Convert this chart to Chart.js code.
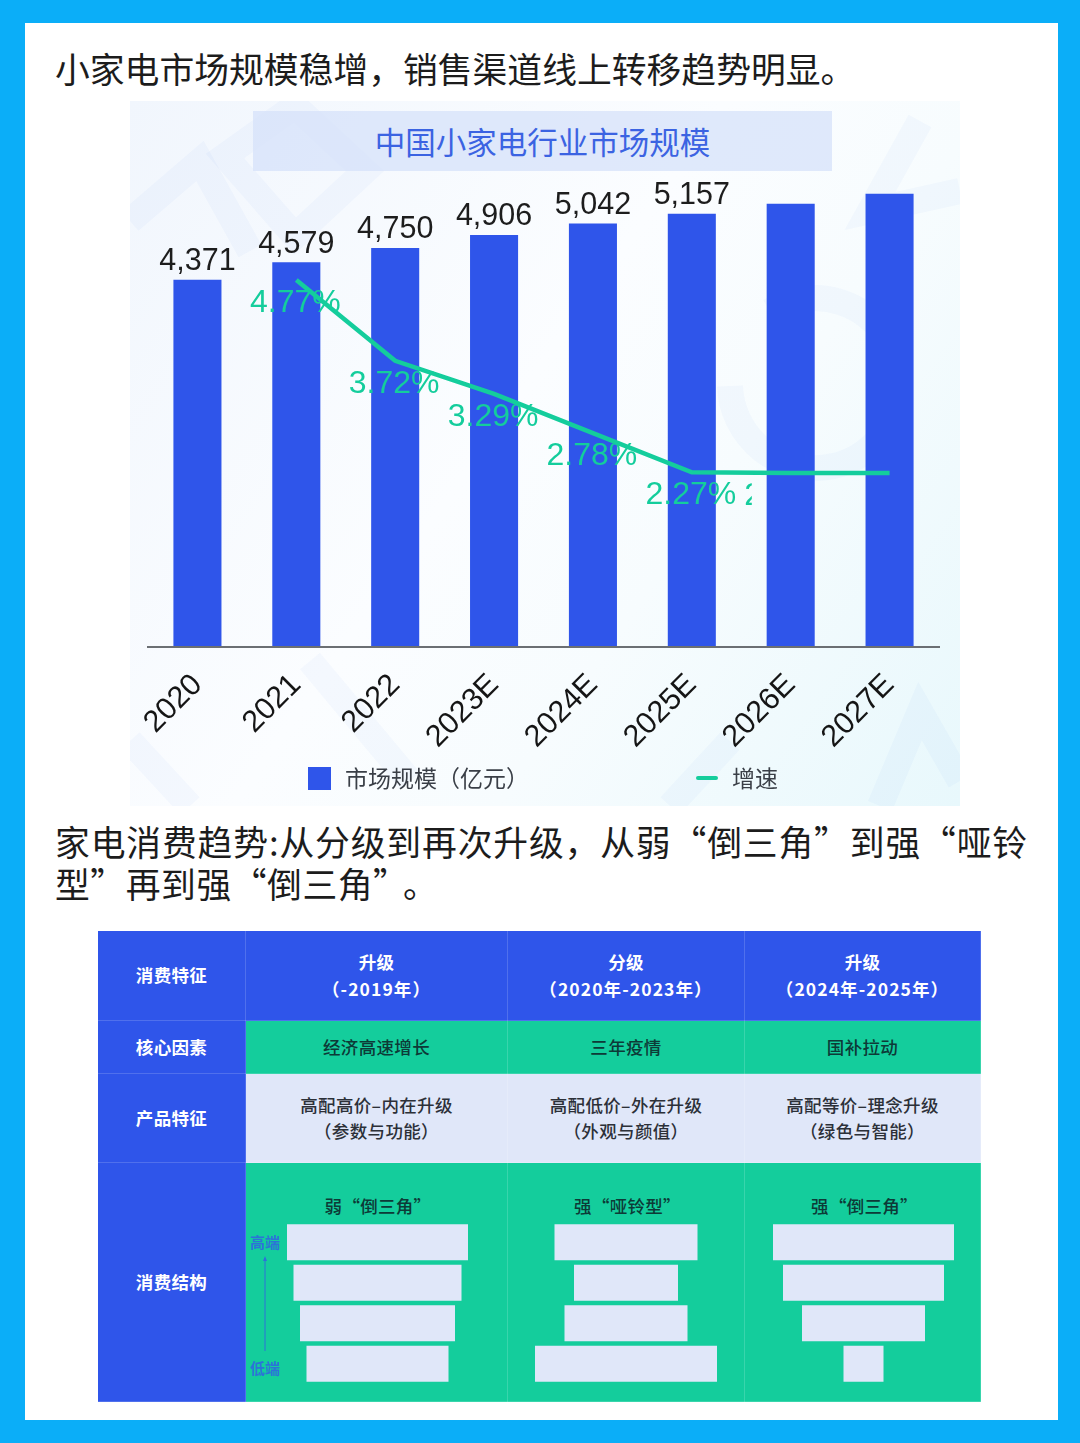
<!DOCTYPE html>
<html lang="zh-CN"><head><meta charset="utf-8">
<script src="https://cdn.jsdelivr.net/npm/chart.js@4"></script>
<style>
html,body{margin:0;padding:0;width:1080px;height:1443px;overflow:hidden;background:#0BAEF8;font-family:"Noto Sans CJK SC","Noto Sans",sans-serif}
#sheet{position:absolute;left:25px;top:23px;width:1033px;height:1397px;background:#fff}
.abs{position:absolute;white-space:nowrap}
.head{font-size:34.8px;line-height:42px;color:#1c1c1c;left:55px}
#panel{position:absolute;left:130px;top:101px;width:830px;height:705px;background:linear-gradient(125deg,#f1f6fd 0%,#fbfdff 45%,#f7fcfe 65%,#e8f8fc 100%)}
#panel svg{position:absolute;left:0;top:0}
#banner{position:absolute;left:253px;top:111px;width:579px;height:60px;background:rgba(214,226,249,.75);color:#3b63e2;font-size:30.5px;line-height:60px;text-align:center}
#c-main{position:absolute;left:130px;top:100px}
.leg{font-size:23px;line-height:30px;color:#3a3f47}
#tbl{position:absolute;left:97px;top:930px;width:883px;height:471px;border-collapse:collapse;table-layout:fixed}
#tbl td{padding:0;text-align:center;font-size:17.5px;font-weight:500;line-height:26.5px;letter-spacing:.35px;border:1px solid rgba(255,255,255,.16)}
#tbl td.h{background:#2F55EA;color:#fff;font-weight:700}
#tbl td.g{background:#14CD9C;color:#0d3a37}
#tbl td.l{background:#E0E7F9;color:#2c3038}
#tbl td.s{background:#14CD9C}
#tbl td span{letter-spacing:1.1px}
.ftitle{font-size:17.5px;font-weight:500;letter-spacing:.3px;color:#0d3a37;line-height:26px;text-align:center}
.fc{position:absolute;top:1222px}
.tier{font-size:15px;line-height:20px;color:#2c72d8;font-weight:700}
</style></head><body>
<div id="sheet"></div>
<div class="abs head" style="top:47px">小家电市场规模稳增，销售渠道线上转移趋势明显。</div>
<div id="panel"><svg width="830" height="705" fill="none" stroke="#3c64dc" stroke-opacity=".035" stroke-width="26">
<path d="M95 55L165 5L235 70L165 135Z"/><path d="M0 120L70 60L120 150"/><path d="M790 20L740 110L830 90"/>
<path d="M640 210A85 85 0 1 1 600 285"/><path d="M180 560L280 680"/><path d="M60 705L0 640"/><path d="M750 705L790 610L830 680"/><path d="M540 705L600 640"/>
</svg></div>
<div id="banner">中国小家电行业市场规模</div>
<canvas id="c-main" width="830" height="706" style="width:830px;height:706px"></canvas>
<div class="abs" style="left:308px;top:767px;width:23px;height:23px;background:#2F55EA"></div>
<div class="abs leg" style="left:345px;top:762px">市场规模（亿元）</div>
<div class="abs" style="left:696px;top:776px;width:22px;height:4px;background:#14CD9C;border-radius:2px"></div>
<div class="abs leg" style="left:732px;top:762px">增速</div>
<div class="abs head" style="top:820px;letter-spacing:.85px">家电消费趋势:从分级到再次升级，从弱“倒三角”到强“哑铃</div>
<div class="abs head" style="top:862px;letter-spacing:.55px">型”再到强“倒三角”<span style="margin-left:12px">。</span></div>
<table id="tbl"></table>
<div id="funnels"></div>
<div class="abs tier" style="left:250px;top:1232px">高端</div>
<div class="abs tier" style="left:250px;top:1358px">低端</div>
<svg class="abs" style="left:260px;top:1256px" width="10" height="96"><path d="M5 95V3" stroke="#2c72d8" stroke-width="1" fill="none"/><path d="M5 0L3 5H7Z" fill="#2c72d8"/></svg>
<script>
const years = ['2020','2021','2022','2023E','2024E','2025E','2026E','2027E'];
const marketSize = [4371,4579,4750,4906,5042,5157,5276,5395];
const growth = [null,4.77,3.72,3.29,2.78,2.27,2.26,2.26];
const sizeLabels = ['4,371','4,579','4,750','4,906','5,042','5,157',null,null];
const growthLabels = [null,'4.77%','3.72%','3.29%','2.78%','2.27%','2.26%',null];
const seriesNames = ['市场规模（亿元）','增速'];

const rowHeads = ['消费特征','核心因素','产品特征','消费结构'];
const stages = ['升级<br><span>（-2019年）</span>','分级<br><span>（2020年-2023年）</span>','升级<br><span>（2024年-2025年）</span>'];
const factors = ['经济高速增长','三年疫情','国补拉动'];
const products = ['高配高价–内在升级<br>（参数与功能）','高配低价–外在升级<br>（外观与颜值）','高配等价–理念升级<br>（绿色与智能）'];
const structureTitles = ['弱“倒三角”','强“哑铃型”','强“倒三角”'];
const tiers = ['高端','中高端','中低端','低端'];
const weakInverted = [181,168,155,142];
const dumbbell = [143,104,123,182];
const strongInverted = [181,161,123,40];

const BLUE='#2F55EA', GREEN='#14CD9C', LIGHT='#E0E7F9';
const colW=[148,262,237,236], rowH=[90,53,89,239];
let html='<colgroup>'+colW.map(w=>`<col style="width:${w}px">`).join('')+'</colgroup>';
html+=`<tr style="height:${rowH[0]}px"><td class="h">${rowHeads[0]}</td>${stages.map(t=>`<td class="h">${t}</td>`).join('')}</tr>`;
html+=`<tr style="height:${rowH[1]}px"><td class="h">${rowHeads[1]}</td>${factors.map(t=>`<td class="g">${t}</td>`).join('')}</tr>`;
html+=`<tr style="height:${rowH[2]}px"><td class="h">${rowHeads[2]}</td>${products.map(t=>`<td class="l">${t}</td>`).join('')}</tr>`;
html+=`<tr style="height:${rowH[3]}px"><td class="h">${rowHeads[3]}</td>${structureTitles.map(()=>`<td class="s"></td>`).join('')}</tr>`;
document.getElementById('tbl').innerHTML=html;

const sansFont='"Liberation Sans",Arial,sans-serif';
const labelPlugin={id:'valueLabels',afterDatasetsDraw(chart){
  const c=chart.ctx;
  const bars=chart.getDatasetMeta(0).data, pts=chart.getDatasetMeta(1).data;
  c.save();c.textAlign='center';c.textBaseline='middle';
  c.font='30.5px '+sansFont;c.fillStyle='#1d1d1d';
  sizeLabels.forEach((t,i)=>{if(t)c.fillText(t,bars[i].x,bars[i].y-18)});
  c.restore();
  c.save();
  c.beginPath();c.rect(0,0,pts[5].x+60,chart.height);c.clip();
  c.textAlign='center';c.textBaseline='middle';
  c.font='32px '+sansFont;c.fillStyle=GREEN;
  growthLabels.forEach((t,i)=>{if(t)c.fillText(t,pts[i].x-1,pts[i].y+23)});
  c.restore();
}};
new Chart(document.getElementById('c-main'),{
  type:'bar',
  data:{labels:years,datasets:[
    {type:'bar',label:seriesNames[0],data:marketSize,backgroundColor:BLUE,barPercentage:.486,categoryPercentage:1,yAxisID:'y',order:2},
    {type:'line',label:seriesNames[1],data:growth,borderColor:GREEN,borderWidth:4.5,pointRadius:0,tension:0,yAxisID:'y1',order:1,spanGaps:false}
  ]},
  options:{responsive:false,animation:false,
    layout:{padding:{left:18,right:21,top:43,bottom:0}},
    plugins:{legend:{display:false},tooltip:{enabled:false},title:{display:false}},
    scales:{
      x:{grid:{display:false},border:{display:true,color:'#6b6f73',width:2,z:1},
        ticks:{color:'#151515',font:{family:sansFont,size:30.5},minRotation:45,maxRotation:45,padding:12,autoSkip:false},
        afterFit(s){s.paddingLeft=0;s.paddingRight=0;s.height=159}},
      y:{display:false,min:0,max:6000},
      y1:{display:false,min:0,max:6.55,position:'right'}
    }
  },
  plugins:[labelPlugin]
});

const funnelHost=document.getElementById('funnels');
const funnelData=[weakInverted,dumbbell,strongInverted];
const funnelLeft=[245,507,744], funnelWidth=[262,237,237], funnelCentre=[132.5,119,119.5];
funnelData.forEach((vals,i)=>{
  const left=funnelLeft[i], w=funnelWidth[i], cx=funnelCentre[i];
  const t=document.createElement('div');
  t.className='abs ftitle';t.style.cssText=`left:${left+2}px;width:${w}px;top:1193px`;t.textContent=structureTitles[i];
  funnelHost.appendChild(t);
  const cv=document.createElement('canvas');cv.className='fc';cv.width=w;cv.height=162;cv.style.cssText=`left:${left}px;width:${w}px;height:162px`;
  funnelHost.appendChild(cv);
  new Chart(cv,{type:'bar',
    data:{labels:tiers,datasets:[{data:vals.map(v=>[-v/2,v/2]),backgroundColor:LIGHT,barPercentage:.89,categoryPercentage:1}]},
    options:{indexAxis:'y',responsive:false,animation:false,
      plugins:{legend:{display:false},tooltip:{enabled:false}},
      scales:{x:{display:false,min:-cx,max:w-cx},y:{display:false}}}
  });
});
</script>
</body></html>
